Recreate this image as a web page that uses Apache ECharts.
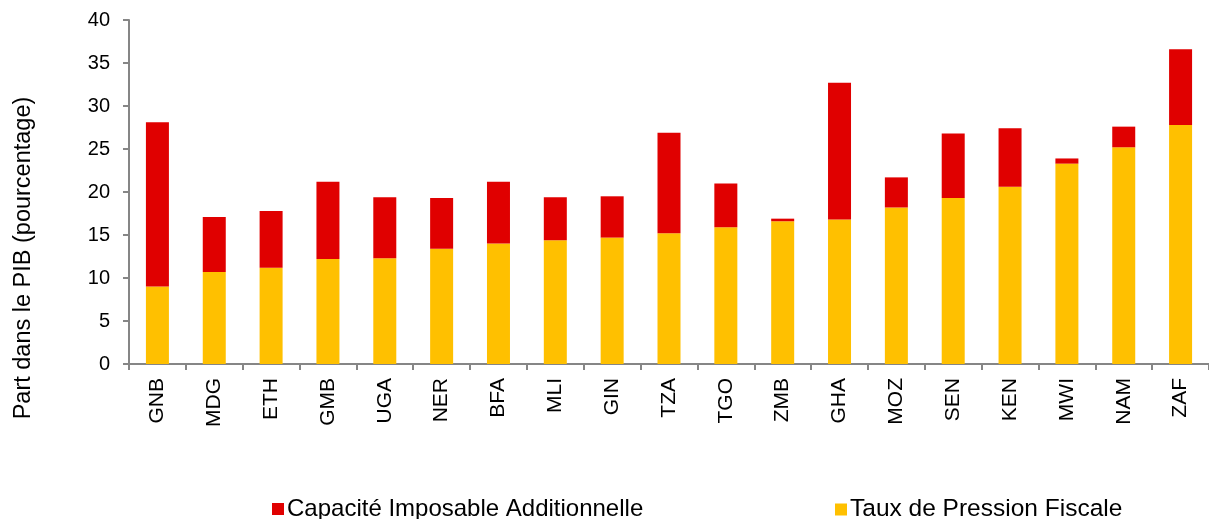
<!DOCTYPE html>
<html>
<head>
<meta charset="utf-8">
<script src="https://cdn.jsdelivr.net/npm/echarts@6/dist/echarts.min.js"></script>
<style>html,body{margin:0;padding:0;background:#fff;}#c{width:1209px;height:519px;}</style>
</head>
<body>
<div id="c"></div>
<script>
const categories = ['GNB','MDG','ETH','GMB','UGA','NER','BFA','MLI','GIN','TZA','TGO','ZMB','GHA','MOZ','SEN','KEN','MWI','NAM','ZAF'];
const tauxPression = [9.0,10.7,11.2,12.2,12.3,13.4,14.0,14.4,14.7,15.2,15.9,16.6,16.8,18.2,19.3,20.6,23.3,25.2,27.8];
const capaciteAdd = [19.1,6.4,6.6,9.0,7.1,5.9,7.2,5.0,4.8,11.7,5.1,0.3,15.9,3.5,7.5,6.8,0.6,2.4,8.8];
const yTicks = [0,5,10,15,20,25,30,35,40];
const seriesNames = ['Capacité Imposable Additionnelle','Taux de Pression Fiscale'];
const yName = 'Part dans le PIB (pourcentage)';

const FONT = "'Liberation Sans', Arial, sans-serif";
const chart = echarts.init(document.getElementById('c'), null, {renderer:'canvas'});
chart.setOption({
  animation: false,
  backgroundColor: '#fff',
  textStyle: {fontFamily: FONT},
  grid: {left: 129, right: -12, top: 20, bottom: 155, containLabel: false},
  legend: [
    {data: [seriesNames[0]], left: 272, top: 497, padding: 0, itemWidth: 12, itemHeight: 12, itemGap: 0,
     icon: 'rect', textStyle: {fontSize: 24, color: '#000', fontFamily: FONT, padding: [0,0,0,-2]}},
    {data: [seriesNames[1]], left: 835, top: 497, padding: 0, itemWidth: 12, itemHeight: 12, itemGap: 0,
     icon: 'rect', textStyle: {fontSize: 24.5, color: '#000', fontFamily: FONT, padding: [0,0,0,-2]}}
  ],
  graphic: [{
    type: 'text', x: 24, y: 258, rotation: Math.PI/2,
    style: {text: yName, fontSize: 23.5, fontFamily: FONT, fill: '#000', align: 'center', verticalAlign: 'middle'}
  }],
  xAxis: {
    type: 'category', data: categories, boundaryGap: true,
    axisLine: {lineStyle: {color: '#868686', width: 2}},
    axisTick: {show: true, length: 6, interval: 0, lineStyle: {color: '#868686', width: 2}},
    axisLabel: {rotate: 90, interval: 0, margin: 14, fontSize: 21, color: '#000', fontFamily: FONT}
  },
  yAxis: {
    type: 'value', min: yTicks[0], max: yTicks[yTicks.length-1], interval: 5,
    axisLine: {show: true, lineStyle: {color: '#868686', width: 2}},
    axisTick: {show: true, length: 6, lineStyle: {color: '#868686', width: 2}},
    splitLine: {show: false},
    axisLabel: {margin: 19, fontSize: 20, color: '#000', fontFamily: FONT}
  },
  series: [
    {name: seriesNames[1], type: 'bar', stack: 'tot', data: tauxPression, barWidth: 23,
     itemStyle: {color: '#FFC000'}},
    {name: seriesNames[0], type: 'bar', stack: 'tot', data: capaciteAdd, barWidth: 23,
     itemStyle: {color: '#E00000'}}
  ]
});
</script>
</body>
</html>
